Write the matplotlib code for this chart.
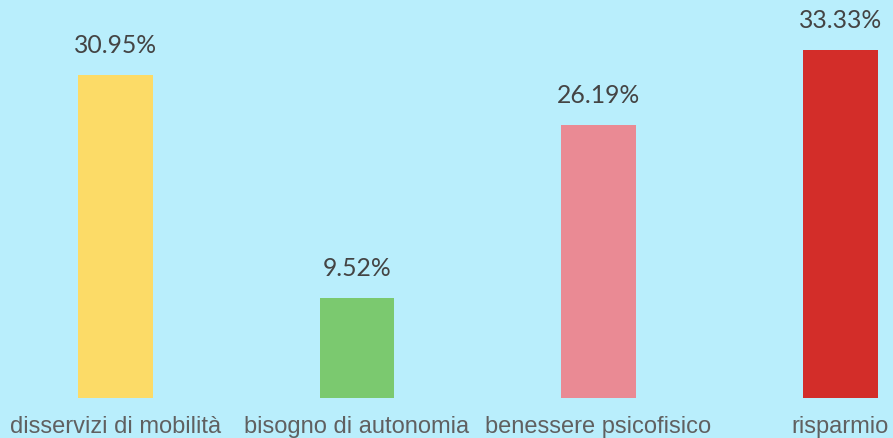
import matplotlib.pyplot as plt
import numpy as np

categories = ["disservizi di mobilità", "bisogno di autonomia", "benessere psicofisico", "risparmio"]
values = [30.95, 9.52, 26.19, 33.33]
colors = ["#FCDB67", "#7BC96F", "#EA8A94", "#D32D29"]

bg = "#B9EEFC"
fig = plt.figure(figsize=(8.93, 4.38), dpi=100, facecolor=bg)
ax = fig.add_axes([0, 40.5 / 438, 1, 397.5 / 438])
ax.set_facecolor(bg)

x = np.arange(len(categories))
ax.bar(x, values, width=0.31, color=colors)

ax.set_xlim(-0.478, 3.219)
ax.set_ylim(0, 38.18)
ax.axis("off")

for xi, v in zip(x, values):
    ax.annotate(f"{v:.2f}%", xy=(xi, v), xytext=(0, 16), textcoords="offset points",
                ha="center", va="baseline", fontsize=17.8, family="Lato", color="#444444")

for xi, c in zip(x, categories):
    ax.annotate(c, xy=(xi, 0), xycoords=("data", "axes fraction"), xytext=(0, -25.5),
                textcoords="offset points", ha="center", va="baseline", fontsize=17,
                family="Liberation Sans", color="#606060", annotation_clip=False)

fig.savefig("out.png", dpi=100, facecolor=bg)
